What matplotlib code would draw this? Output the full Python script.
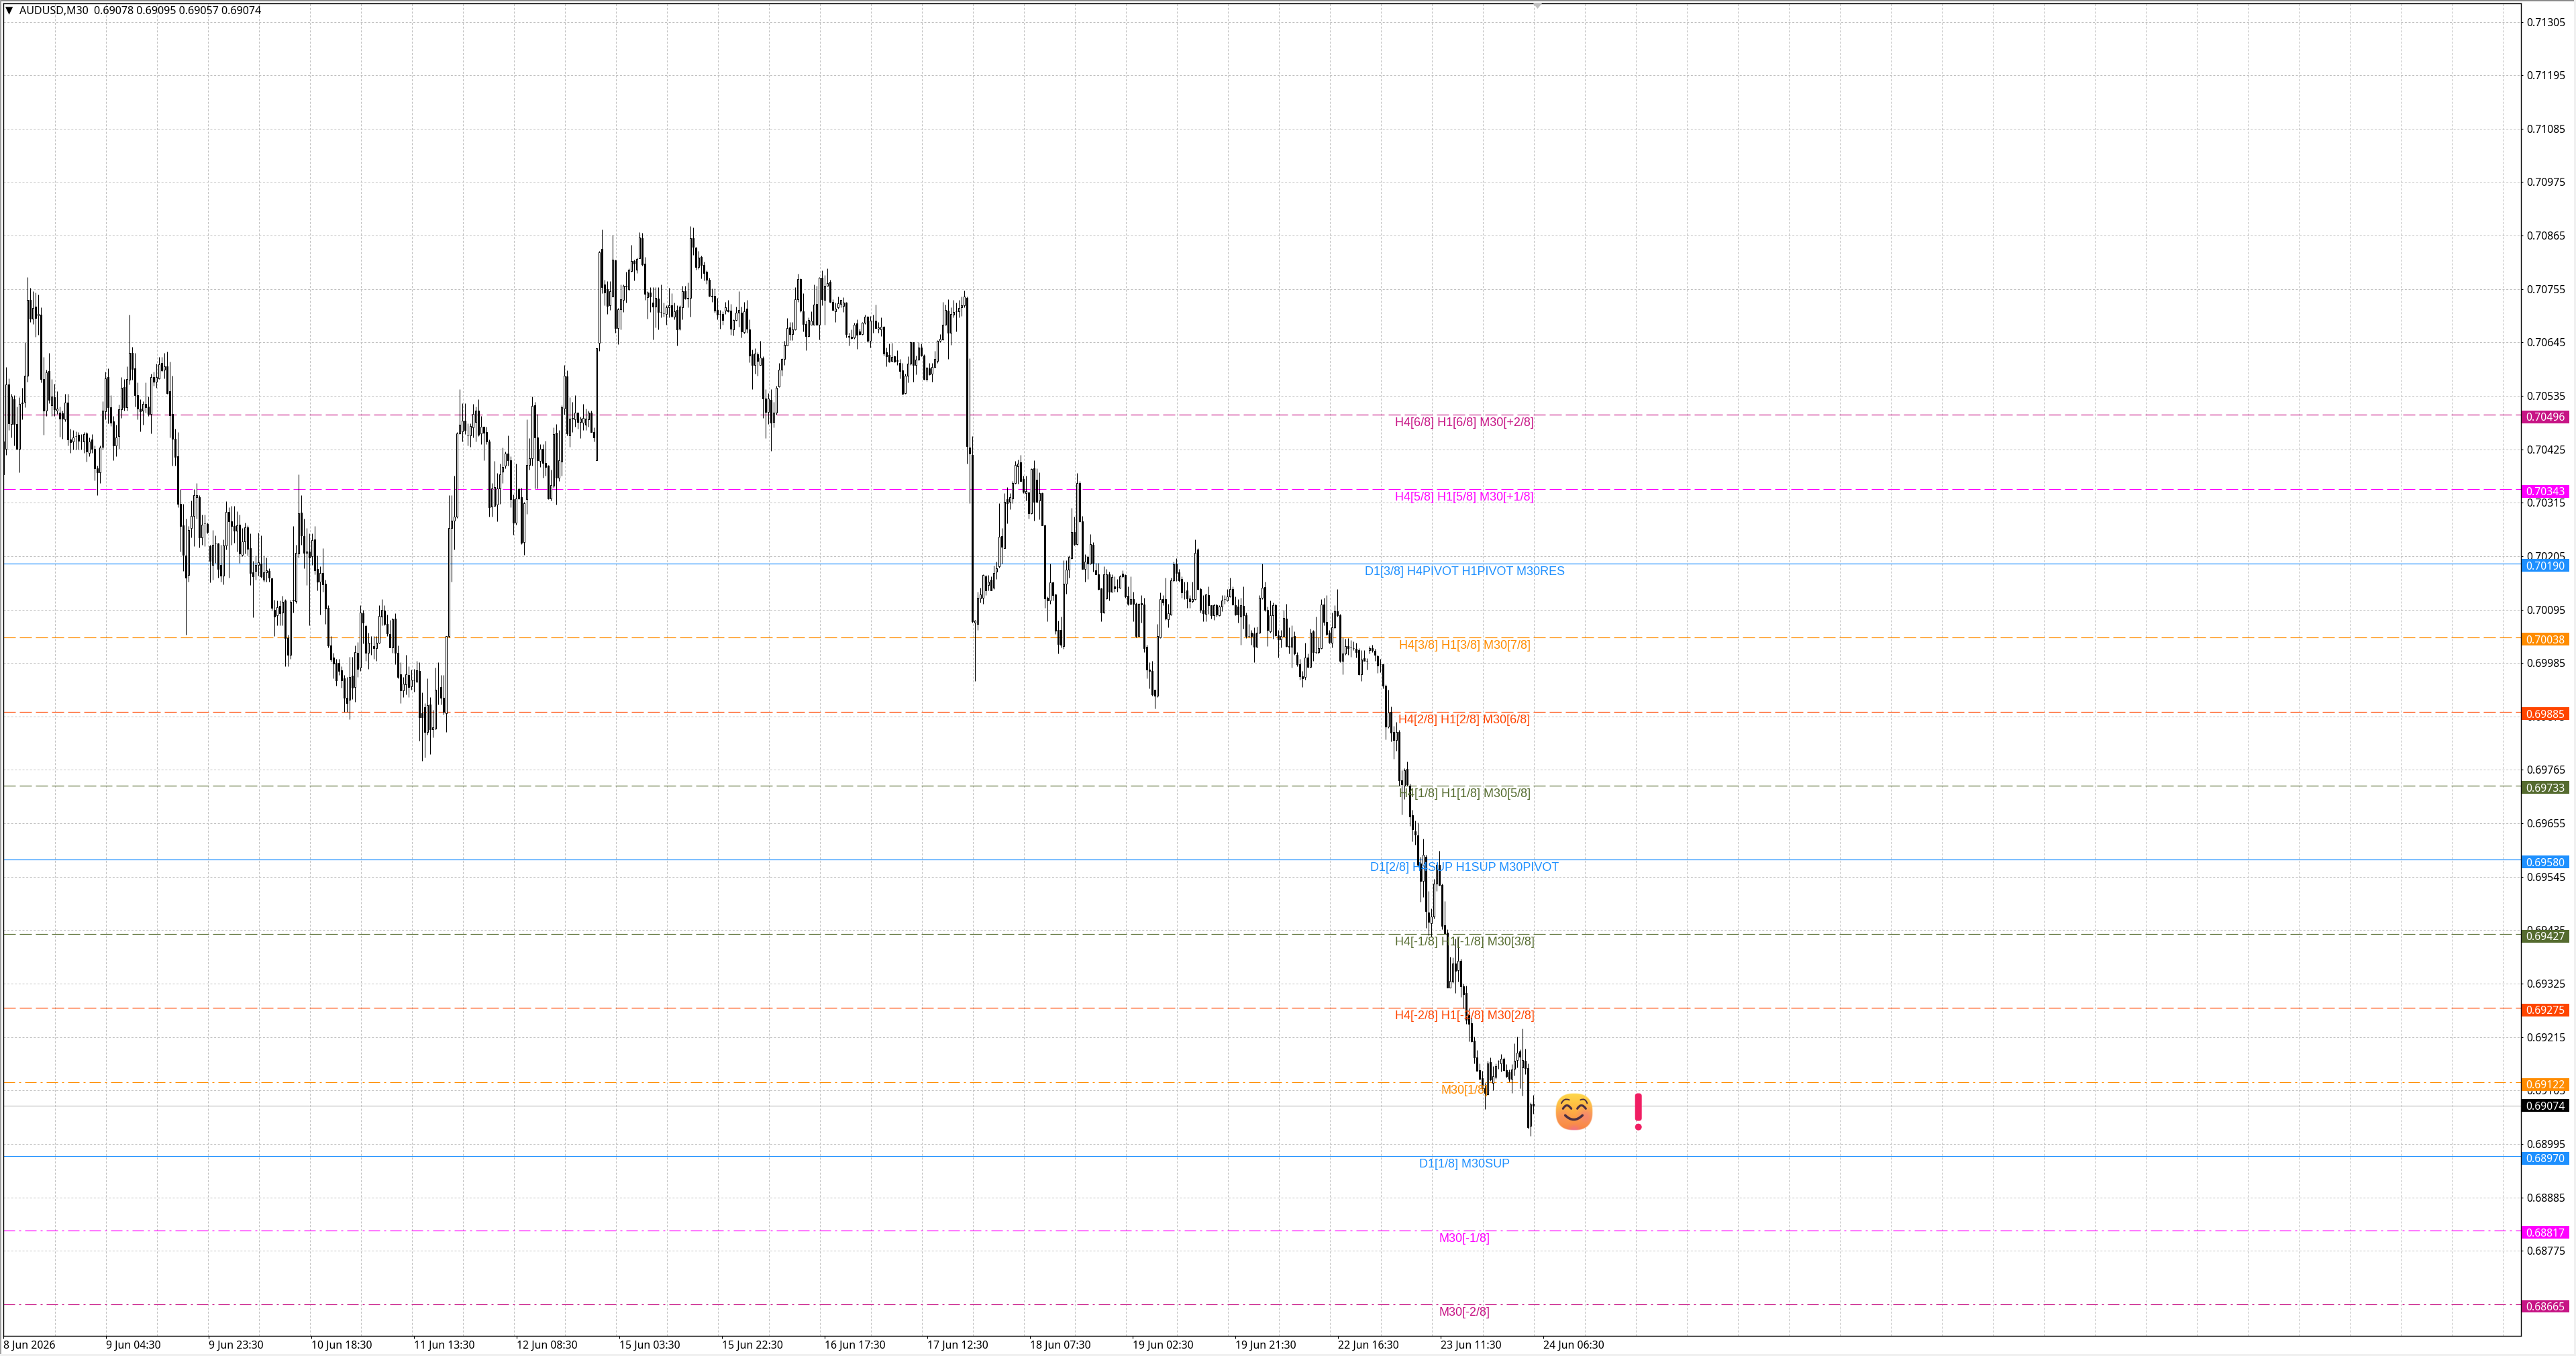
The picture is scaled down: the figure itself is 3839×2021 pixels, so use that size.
import numpy as np
import matplotlib
matplotlib.use("Agg")
import matplotlib.pyplot as plt
from matplotlib.patches import Rectangle, Circle, FancyBboxPatch, PathPatch, Polygon
from matplotlib.path import Path

# candles as (open, high, low, close) in 1e-5 price points
candles_a = [
(70441,70456,70373,70373),(70426,70594,70414,70558),(70558,70571,70465,70479),(70477,70539,70449,70534),(70528,70536,70433,70477),
(70477,70513,70424,70426),(70426,70532,70377,70519),(70520,70551,70486,70521),(70523,70645,70511,70577),(70577,70779,70564,70732),
(70733,70757,70687,70694),(70694,70751,70683,70716),(70718,70748,70657,70695),(70701,70744,70660,70704),(70702,70717,70562,70570),
(70569,70615,70455,70505),(70504,70589,70494,70583),(70586,70624,70520,70526),(70515,70570,70494,70534),(70532,70560,70494,70508),
(70505,70545,70498,70509),(70500,70513,70451,70488),(70499,70505,70447,70488),(70486,70539,70483,70521),(70521,70539,70433,70445),
(70445,70467,70417,70440),(70441,70464,70424,70449),(70452,70462,70424,70452),(70455,70460,70424,70443),(70443,70456,70424,70442),
(70441,70460,70418,70456),(70458,70460,70399,70420),(70418,70449,70411,70441),(70445,70456,70417,70426),(70426,70433,70361,70386),
(70386,70392,70331,70377),(70378,70433,70356,70428),(70430,70524,70424,70505),(70503,70585,70486,70571),(70573,70591,70479,70511),
(70512,70536,70473,70480),(70482,70494,70403,70433),(70433,70475,70411,70449),(70452,70517,70426,70508),(70508,70573,70490,70551),
(70553,70570,70505,70511),(70511,70596,70505,70569),(70568,70702,70558,70623),(70624,70636,70568,70590),(70592,70624,70513,70537),
(70537,70562,70486,70509),(70509,70528,70462,70503),(70504,70524,70475,70518),(70518,70562,70501,70512),(70513,70533,70494,70498),
(70497,70581,70458,70573),(70574,70585,70555,70564),(70564,70601,70551,70573),(70571,70615,70570,70600),(70602,70615,70585,70588),
(70589,70624,70571,70596),(70596,70626,70539,70541),(70545,70605,70449,70495),(70498,70576,70392,70447),(70447,70467,70392,70409),
(70411,70460,70305,70312),(70312,70343,70215,70267),(70268,70312,70174,70208),(70206,70282,70043,70161),(70166,70267,70153,70259),
(70263,70320,70244,70288),(70288,70343,70225,70330),(70327,70356,70282,70331),(70326,70331,70223,70244),(70244,70290,70229,70270),
(70272,70290,70225,70272),(70271,70274,70252,70254),(70225,70229,70151,70195),(70187,70259,70157,70229),(70231,70248,70191,70231),
(70231,70233,70161,70179),(70187,70229,70152,70165),(70165,70240,70147,70227),(70227,70318,70218,70296),(70296,70305,70161,70276),
(70276,70308,70229,70267),(70267,70308,70233,70258),(70258,70297,70214,70269),(70270,70290,70191,70210),(70208,70263,70205,70235),
(70235,70274,70210,70264),(70264,70268,70206,70220),(70221,70252,70146,70171),(70172,70195,70079,70163),(70174,70206,70157,70187),
]
candles_b = [
(70187,70253,70165,70193),(70190,70248,70161,70163),(70156,70206,70153,70172),(70172,70202,70153,70176),(70174,70180,70153,70161),
(70159,70161,70093,70099),(70094,70115,70040,70081),(70083,70114,70062,70100),(70103,70114,70062,70087),(70089,70123,70062,70111),
(70114,70117,69978,70036),(70036,70043,69978,70002),(70002,70115,69994,70111),(70114,70267,70089,70115),(70112,70229,70108,70212),
(70210,70373,70202,70293),(70295,70331,70229,70248),(70246,70282,70180,70212),(70212,70263,70146,70214),(70214,70252,70062,70202),
(70205,70252,70187,70238),(70240,70267,70168,70176),(70178,70206,70134,70153),(70153,70184,70085,70170),(70170,70221,70131,70147),
(70148,70157,70066,70097),(70099,70104,70017,70021),(70021,70040,69988,69992),(69996,70006,69953,69984),(69985,69994,69938,69949),
(69985,69994,69960,69969),(69970,69979,69934,69949),(69953,69960,69885,69913),(69913,69956,69885,69903),(69909,69998,69869,69956),
(69959,69998,69911,69934),(69935,70021,69905,70007),(70006,70028,69956,69973),(69975,70104,69968,70089),(70087,70094,70025,70068),
(70061,70064,69990,70006),(70006,70047,69973,70026),(70025,70040,70002,70025),(70020,70040,69994,70015),(70015,70040,69990,70026),
(70026,70104,70025,70082),(70081,70117,70062,70094),(70093,70104,70062,70066),(70066,70085,70040,70046),(70045,70074,70017,70017),
(70017,70078,70006,70075),(70076,70087,69983,70006),(70006,70021,69953,69956),(69962,69987,69902,69928),(69928,69956,69915,69943),
(69941,70002,69920,69962),(69960,69979,69915,69935),(69937,69972,69930,69950),(69949,69973,69926,69949),(69947,69989,69945,69970),
(69968,69987,69825,69873),(69882,69925,69784,69873),(69894,69903,69790,69843),(69843,69953,69837,69898),(69900,69915,69798,69848),
(69848,69888,69832,69852),(69850,69975,69849,69930),(69934,69987,69900,69934),(69935,69960,69900,69913),(69913,69960,69879,69885),
(69882,70040,69843,70040),(70040,70331,70038,70263),(70263,70331,70153,70278),(70278,70371,70218,70287),(70286,70460,70284,70458),
(70458,70549,70456,70475),(70462,70520,70441,70484),(70484,70520,70456,70465),(70454,70479,70433,70454),(70454,70479,70430,70473),
(70470,70519,70449,70498),(70481,70513,70441,70505),(70505,70528,70452,70455),(70457,70494,70435,70471),
]
candles_c = [
(70471,70472,70402,70459),(70461,70472,70435,70441),(70441,70445,70287,70305),(70307,70356,70286,70345),(70309,70401,70309,70347),
(70311,70376,70276,70344),(70344,70396,70312,70374),(70379,70428,70356,70389),(70391,70421,70386,70416),(70416,70453,70391,70403),
(70403,70411,70305,70322),(70322,70332,70249,70274),(70274,70396,70270,70324),(70343,70346,70322,70324),(70326,70346,70230,70233),
(70234,70317,70208,70314),(70322,70487,70292,70393),(70393,70448,70383,70407),(70407,70533,70391,70514),(70516,70522,70344,70450),
(70450,70497,70344,70402),(70401,70435,70388,70426),(70426,70435,70366,70397),(70397,70443,70371,70389),(70392,70393,70322,70324),
(70324,70383,70320,70351),(70350,70470,70346,70456),(70459,70477,70311,70367),(70367,70465,70359,70402),(70400,70515,70371,70511),
(70509,70599,70496,70576),(70575,70588,70453,70458),(70453,70532,70430,70488),(70488,70522,70460,70490),(70487,70537,70472,70500),
(70500,70500,70467,70481),(70481,70492,70448,70488),(70480,70519,70465,70490),(70476,70509,70465,70488),(70487,70504,70472,70500),
(70500,70504,70460,70461),(70461,70470,70441,70449),(70402,70633,70402,70633),(70644,70833,70627,70830),(70837,70877,70746,70759),
(70764,70774,70722,70747),(70754,70771,70704,70720),(70722,70771,70712,70750),(70740,70867,70739,70815),(70814,70816,70665,70674),
(70674,70716,70641,70713),(70713,70764,70672,70734),(70733,70764,70707,70761),(70760,70791,70727,70761),(70754,70798,70752,70794),
(70792,70846,70791,70813),(70812,70816,70773,70807),(70795,70819,70788,70817),(70818,70872,70818,70861),(70859,70871,70803,70806),
(70807,70821,70733,70745),(70738,70751,70694,70747),(70747,70759,70708,70739),(70727,70759,70651,70719),(70718,70759,70676,70736),
(70735,70759,70672,70707),(70708,70764,70697,70708),(70705,70727,70698,70705),(70704,70722,70681,70717),(70717,70758,70697,70721),
(70721,70746,70696,70699),(70698,70727,70692,70709),(70712,70722,70638,70672),(70673,70722,70670,70718),(70717,70761,70692,70750),
(70750,70761,70734,70735),(70735,70769,70717,70736),(70736,70885,70698,70859),(70859,70881,70825,70841),(70840,70841,70795,70800),
(70800,70833,70796,70820),(70821,70823,70777,70804),(70804,70811,70772,70788),(70790,70793,70766,70774),(70774,70778,70739,70741),
(70740,70756,70729,70741),(70741,70756,70706,70711),(70712,70737,70693,70702),(70704,70712,70673,70704),(70703,70709,70682,70691),
]
candles_d = [
(70710,70729,70704,70717),(70712,70732,70708,70709),(70711,70724,70661,70673),(70672,70693,70659,70691),(70691,70719,70690,70706),
(70706,70750,70677,70712),(70706,70719,70655,70667),(70666,70729,70663,70709),(70715,70733,70665,70673),(70672,70693,70604,70618),
(70620,70630,70549,70599),(70599,70633,70581,70622),(70621,70625,70576,70607),(70599,70648,70598,70614),(70613,70616,70490,70530),
(70530,70549,70448,70502),(70502,70541,70477,70529),(70527,70549,70422,70480),(70481,70522,70470,70500),(70500,70556,70496,70551),
(70554,70602,70553,70589),(70589,70613,70576,70611),(70611,70648,70598,70640),(70639,70695,70638,70674),(70676,70687,70649,70662),
(70662,70687,70649,70672),(70672,70759,70671,70734),(70734,70786,70729,70775),(70775,70776,70707,70710),(70709,70746,70667,70683),
(70683,70690,70629,70658),(70658,70697,70657,70691),(70682,70709,70682,70690),(70682,70764,70681,70723),(70724,70762,70681,70682),
(70682,70780,70651,70778),(70778,70793,70722,70734),(70733,70783,70682,70761),(70762,70797,70761,70767),(70770,70774,70727,70728),
(70728,70734,70712,70712),(70709,70727,70687,70715),(70717,70739,70714,70726),(70724,70733,70717,70732),(70720,70738,70707,70727),
(70727,70728,70655,70662),(70658,70665,70638,70657),(70657,70672,70653,70654),(70655,70685,70653,70682),(70684,70693,70632,70661),
(70667,70673,70660,70662),(70662,70687,70661,70685),(70685,70702,70683,70698),(70698,70700,70645,70648),(70648,70699,70635,70689),
(70689,70702,70665,70689),(70689,70723,70674,70675),(70673,70687,70665,70676),(70672,70696,70658,70677),(70677,70678,70618,70622),
(70625,70634,70596,70616),(70619,70643,70604,70606),(70607,70644,70606,70615),(70616,70618,70604,70606),(70607,70629,70598,70608),
(70603,70611,70571,70586),(70588,70602,70538,70539),(70541,70581,70539,70576),(70576,70616,70563,70601),(70601,70647,70598,70645),
(70645,70646,70564,70598),(70598,70618,70579,70610),(70610,70645,70608,70634),(70634,70643,70616,70618),(70618,70620,70568,70569),
(70570,70594,70565,70593),(70591,70603,70578,70579),(70581,70602,70564,70594),(70594,70628,70593,70611),(70607,70650,70603,70648),
(70648,70662,70645,70653),(70651,70728,70650,70681),(70682,70723,70681,70712),(70711,70734,70611,70665),(70665,70717,70640,70704),
(70702,70732,70697,70707),(70709,70727,70668,70709),(70709,70732,70697,70716),(70717,70740,70699,70722),(70722,70752,70717,70740),
]
candles_e = [
(70736,70739,70395,70431),(70429,70612,70314,70416),(70414,70452,70068,70071),(70068,70074,69948,70072),(70065,70132,70053,70119),
(70118,70140,70110,70126),(70119,70167,70107,70166),(70164,70166,70125,70134),(70146,70166,70134,70152),(70156,70164,70134,70134),
(70140,70185,70137,70170),(70173,70194,70158,70180),(70184,70314,70182,70245),(70246,70263,70190,70224),(70222,70335,70221,70317),
(70322,70347,70272,70314),(70317,70335,70302,70326),(70324,70359,70314,70356),(70355,70401,70354,70393),(70390,70404,70354,70396),
(70398,70413,70359,70360),(70364,70371,70335,70338),(70335,70371,70320,70339),(70336,70338,70282,70293),(70293,70386,70292,70384),
(70386,70402,70278,70317),(70362,70386,70317,70317),(70320,70377,70281,70334),(70334,70336,70269,70269),(70269,70270,70098,70118),
(70119,70122,70071,70113),(70114,70190,70107,70151),(70151,70152,70113,70125),(70126,70128,70044,70052),(70053,70072,70005,70024),
(70053,70080,70017,70023),(70020,70197,70014,70148),(70148,70197,70128,70177),(70177,70206,70161,70204),(70201,70304,70200,70255),
(70254,70287,70227,70230),(70230,70376,70229,70355),(70356,70359,70275,70276),(70276,70288,70179,70179),(70179,70209,70152,70194),
(70203,70206,70158,70190),(70190,70250,70188,70230),(70228,70234,70173,70191),(70176,70191,70167,70168),(70167,70191,70136,70137),
(70138,70140,70071,70089),(70089,70184,70088,70168),(70118,70179,70116,70168),(70168,70173,70114,70132),(70132,70167,70131,70162),
(70143,70164,70131,70138),(70141,70158,70132,70141),(70140,70166,70138,70164),(70169,70176,70161,70163),(70166,70167,70119,70122),
(70124,70143,70104,70107),(70107,70164,70106,70116),(70116,70131,70071,70107),(70107,70110,70038,70040),(70041,70108,70040,70107),
(70108,70125,70068,70105),(70105,70119,70008,70016),(70018,70023,69954,69972),(69971,69987,69933,69968),(69969,69990,69918,69920),
(69930,69930,69891,69918),(69917,70065,69915,70040),(70038,70130,70036,70116),(70117,70125,70104,70110),(70116,70160,70074,70077),
(70075,70107,70059,70087),(70085,70160,70083,70155),(70155,70194,70152,70188),(70190,70201,70154,70170),(70172,70179,70152,70155),
(70158,70164,70119,70130),(70131,70152,70116,70131),(70134,70152,70098,70118),(70118,70125,70098,70112),(70112,70152,70110,70116),
(70116,70239,70115,70212),(70218,70222,70136,70137),(70137,70140,70089,70094),(70094,70125,70071,70088),(70086,70128,70071,70126),
(70125,70142,70086,70104),(70104,70104,70077,70083),(70083,70107,70074,70104),(70104,70107,70080,70084),(70083,70104,70082,70101),
]
candles_f = [
(70101,70125,70092,70114),(70116,70125,70107,70116),(70113,70137,70112,70122),(70122,70160,70120,70137),(70137,70142,70104,70106),
(70104,70122,70083,70084),(70101,70116,70068,70084),(70080,70119,70022,70104),(70102,70143,70056,70083),(70083,70089,70036,70040),
(70041,70066,70038,70040),(70047,70053,70023,70040),(70046,70059,69987,70019),(70019,70060,70017,70047),(70047,70125,70046,70119),
(70119,70190,70116,70140),(70141,70152,70092,70094),(70094,70101,70020,70053),(70050,70113,70048,70083),(70083,70110,70035,70104),
(70104,70107,70040,70042),(70042,70053,69996,70034),(70034,70053,70017,70041),(70041,70095,70040,70078),(70077,70107,70018,70020),
(70020,70059,70005,70018),(70018,70062,69975,70038),(70040,70050,70002,70004),(70002,70008,69978,69983),(69983,69993,69950,69957),
(69957,69969,69936,69954),(69956,70026,69951,69996),(69996,70005,69975,69977),(69977,70056,69975,70048),(70050,70053,69990,70007),
(70008,70080,70005,70008),(70008,70038,70005,70016),(70016,70116,70014,70106),(70106,70119,70062,70070),(70070,70125,70042,70044),
(70047,70053,70025,70028),(70026,70089,70017,70058),(70058,70104,70056,70092),(70092,70137,70080,70083),(70083,70086,69987,69990),
(69989,70038,69962,70004),(70004,70035,70002,70020),(70020,70037,70002,70016),(70017,70032,69998,70017),(70015,70029,70011,70015),
(70014,70026,69996,70008),(70011,70016,69960,69962),(69962,70011,69948,69992),(69995,70011,69990,69990),(69990,69995,69972,69990),
(70011,70020,70005,70016),(70016,70022,70007,70011),(70010,70014,69990,70002),(69999,70002,69965,69980),(69982,69994,69966,69982),
(69982,69983,69933,69938),(69938,69941,69828,69854),(69854,69930,69851,69883),(69885,69895,69824,69841),(69843,69855,69788,69826),
(69827,69863,69804,69843),(69843,69847,69733,69744),(69744,69764,69673,69735),(69733,69768,69705,69764),(69767,69782,69733,69735),
(69733,69737,69649,69669),(69671,69683,69618,69642),(69639,69661,69611,69632),(69630,69656,69566,69570),(69572,69586,69493,69536),
(69537,69624,69503,69590),(69586,69590,69440,69474),(69471,69515,69424,69452),(69449,69479,69421,69463),(69463,69540,69459,69531),
(69531,69574,69515,69569),(69569,69598,69527,69528),(69528,69531,69437,69444),(69445,69495,69428,69428),(69430,69437,69316,69317),
(69317,69380,69316,69331),(69329,69379,69327,69366),(69366,69418,69305,69351),(69353,69420,69329,69372),(69372,69376,69297,69319),
(69319,69325,69274,69303),(69305,69321,69242,69250),(69260,69274,69206,69242),(69243,69254,69205,69206),(69208,69216,69160,69173),
(69173,69188,69145,69145),(69147,69161,69127,69129),(69130,69145,69106,69109),(69110,69120,69066,69100),(69097,69166,69095,69161),
(69163,69173,69125,69127),(69121,69155,69105,69134),(69133,69161,69129,69155),(69166,69167,69149,69166),(69161,69180,69144,69170),
(69170,69173,69145,69147),(69147,69159,69132,69135),(69142,69148,69123,69129),(69129,69159,69100,69148),(69150,69202,69136,69166),
(69167,69216,69153,69183),(69185,69189,69109,69175),(69152,69233,69094,69167),(69166,69191,69139,69151),(69151,69160,69027,69029),
(69032,69080,69011,69077),(69078,69095,69057,69074),
]

price_ticks = [0.71305,0.71195,0.71085,0.70975,0.70865,0.70755,0.70645,0.70535,0.70425,0.70315,0.70205,0.70095,
               0.69985,0.69875,0.69765,0.69655,0.69545,0.69435,0.69325,0.69215,0.69105,0.68995,0.68885,0.68775]
date_labels = ["8 Jun 2026","9 Jun 04:30","9 Jun 23:30","10 Jun 18:30","11 Jun 13:30","12 Jun 08:30","15 Jun 03:30",
               "15 Jun 22:30","16 Jun 17:30","17 Jun 12:30","18 Jun 07:30","19 Jun 02:30","19 Jun 21:30","22 Jun 16:30",
               "23 Jun 11:30","24 Jun 06:30"]
level_prices = [0.70496,0.70343,0.70190,0.70038,0.69885,0.69733,0.69580,0.69427,0.69275,0.69122,0.68970,0.68817,0.68665]
level_names = ["H4[6/8] H1[6/8] M30[+2/8]","H4[5/8] H1[5/8] M30[+1/8]","D1[3/8] H4PIVOT H1PIVOT M30RES",
               "H4[3/8] H1[3/8] M30[7/8]","H4[2/8] H1[2/8] M30[6/8]","H4[1/8] H1[1/8] M30[5/8]",
               "D1[2/8] H4SUP H1SUP M30PIVOT","H4[-1/8] H1[-1/8] M30[3/8]","H4[-2/8] H1[-2/8] M30[2/8]",
               "M30[1/8]","D1[1/8] M30SUP","M30[-1/8]","M30[-2/8]"]
level_colors = ["#C71585","#FF00FF","#1E90FF","#FF8C00","#FF4500","#556B2F","#1E90FF","#556B2F","#FF4500",
                "#FF8C00","#1E90FF","#FF00FF","#C71585"]
level_kinds = ["dash","dash","solid","dash","dash","dash","solid","dash","dash","dashdot","solid","dashdot","dashdot"]
last_price = 0.69074
header = "AUDUSD,M30  0.69078 0.69095 0.69057 0.69074"

W, H = 3839, 2021
PX = 0.72  # one pixel in points at dpi 100
plt.rcParams["lines.scale_dashes"] = False
plt.rcParams["font.family"] = ["Noto Sans", "DejaVu Sans"]
fig = plt.figure(figsize=(W/100, H/100), dpi=100, facecolor="white")
ax = fig.add_axes([4.5/W, 1-1990.5/H, (3757-4.5)/W, (1990.5-4.5)/H])
ax.set_xlim(-0.125, 938)
ax.set_ylim(0.686005, 0.713437)
ymin, ymax = ax.get_ylim()

# grid
grid_ls = (0, (3*PX, 2.6*PX))
ax.set_yticks(price_ticks)
ax.set_yticklabels([f"{v:.5f}" for v in price_ticks])
ax.grid(axis="y", color="#c0c0c0", lw=PX, ls=grid_ls, zorder=1)
grid_x = 19.15 + 19*np.arange(49)
ax.vlines(grid_x, ymin, ymax, color="#c0c0c0", lw=PX, ls=grid_ls, zorder=1)

# axis cosmetics
ax.yaxis.tick_right()
ax.tick_params(axis="y", length=3*PX, width=1.1*PX, pad=5*PX, labelsize=11.3, colors="black")
tick_x = 38.25*np.arange(len(date_labels))
ax.set_xticks(tick_x)
ax.set_xticklabels(date_labels, ha="left")
ax.tick_params(axis="x", length=4*PX, width=1.1*PX, pad=2.5, labelsize=11.4, colors="black")
for s in ax.spines.values():
    s.set_linewidth(1.4*PX)
    s.set_color("black")

# levels
styles = {"dash": (0, (18*PX, 6*PX)), "solid": "-", "dashdot": (0, (17*PX, 6*PX, 3*PX, 6*PX))}
ax.axhline(last_price, color="#c0c0c0", lw=1.2*PX, zorder=2)
for p, c, k in zip(level_prices, level_colors, level_kinds):
    ax.axhline(p, color=c, lw=1.2*PX, ls=styles[k], zorder=2)

# candles
rows = np.array(candles_a + candles_b + candles_c + candles_d + candles_e + candles_f, dtype=float) / 1e5
o, h, l, c = rows.T
x = np.arange(len(rows))
ax.vlines(x, l, h, color="black", lw=1.05*PX, zorder=3)
bear = c < o
ax.bar(x, np.abs(c-o), bottom=np.minimum(o, c), width=0.5,
       color=np.where(bear, "black", "white"), edgecolor="black", linewidth=1.05*PX, zorder=3.5)

# level captions
for p, t, col in zip(level_prices, level_names, level_colors):
    ax.annotate(t, xy=(544.4, p), xytext=(0, -12.5*PX), textcoords="offset points", ha="center", va="center",
                color=col, fontsize=13.0, family="Liberation Sans", zorder=5)

# right-hand price boxes
tr = ax.get_yaxis_transform()
axw = 3757-4.5
def price_box(p, col, up, down):
    ax.add_patch(Rectangle((1+1/axw, p-down), 71/axw, up+down, transform=tr, fc=col, ec="none", clip_on=False, zorder=6))
    ax.text(1+36.5/axw, p+(up-down)/2, f"{p:.5f}", transform=tr, ha="center", va="center_baseline",
            color="white", fontsize=11.3, clip_on=False, zorder=7)
for p, col in zip(level_prices, level_colors):
    price_box(p, col, 8.7e-5, 17.5e-5)
price_box(last_price, "black", 13e-5, 13e-5)

# overlay in pixels: window chrome, header and the two emoji pictures
ov = fig.add_axes([0, 0, 1, 1], zorder=10)
ov.set_xlim(0, W); ov.set_ylim(H, 0); ov.axis("off"); ov.patch.set_alpha(0)
ov.add_patch(Rectangle((0, 0), W, 2, fc="#8a8a8a", ec="none"))
ov.add_patch(Rectangle((0, 0), 1.5, H, fc="#a0a0a0", ec="none"))
ov.add_patch(Rectangle((0, 2018), W, 3, fc="#f0f0f0", ec="none"))
ov.add_patch(Rectangle((3836, 0), 3, H, fc="#f0f0f0", ec="none"))
ov.add_patch(Polygon([(2285, 5), (2298, 5), (2291.5, 13)], fc="#c0c0c0", ec="none"))
ov.text(14, 15.5, "\u25BC", family="DejaVu Sans", fontsize=10.5, ha="center", va="center", color="black")
ov.text(29, 17, header, fontsize=11.55, ha="left", va="center", color="black")

# smiling face
cx, cy, r = 2345.7, 1656.7, 28.0
n = 112
yy, xx = np.mgrid[-1:1:n*1j, -1:1:n*1j]
d = (np.abs(xx)**2.5 + np.abs(yy)**2.5)**(1/2.5)
top, mid, low = np.array([255,216,77.]), np.array([255,176,56.]), np.array([248,130,60.])
t = (yy+1)/2
img = np.where(t[..., None] < 0.55, top + (mid-top)*(t[..., None]/0.55), mid + (low-mid)*((t[..., None]-0.55)/0.45))
pink = np.array([240,110,150.])
for chx, chy, a, sig in [(0.62, 0.22, 0.55, 0.32), (-0.62, 0.22, 0.35, 0.32), (0.0, 1.05, 0.85, 0.22)]:
    w = a*np.exp(-((xx-chx)**2+(yy-chy)**2)/(2*sig**2))
    img = img*(1-w[..., None]) + pink*w[..., None]
alpha = np.clip((1-d)*n/4, 0, 1)
rgba = np.dstack([img/255, alpha])
ov.imshow(rgba, extent=(cx-r, cx+r, cy+r, cy-r), zorder=3, interpolation="bilinear", aspect="auto")
ov.set_xlim(0, W); ov.set_ylim(H, 0)
ink = "#4b2f42"
def arc(p0, p1, p2, lw):
    ov.add_patch(PathPatch(Path([p0, p1, p2], [Path.MOVETO, Path.CURVE3, Path.CURVE3]), fc="none", ec=ink, lw=lw*PX, capstyle="round", zorder=4))
def z(px, py):
    return (2300+px/3, 1610+py/3)
arc(z(88,127), z(105,98), z(125,127), 3.2)
arc(z(152,127), z(170,98), z(190,127), 3.2)
arc(z(81,103), z(92,78), z(116,88), 2.0)
arc(z(166,88), z(188,78), z(196,103), 2.0)
arc(z(98,157), z(136,195), z(175,157), 3.6)

# exclamation mark
ov.add_patch(FancyBboxPatch((2441.7-1, 1633.5), 2, 33, boxstyle="round,pad=4,rounding_size=4", fc="#F01E63", ec="none", zorder=4))
ov.add_patch(Circle((2441.7, 1679.7), 5, fc="#F01E63", ec="none", zorder=4))

fig.savefig("out.png", dpi=100, facecolor="white")
